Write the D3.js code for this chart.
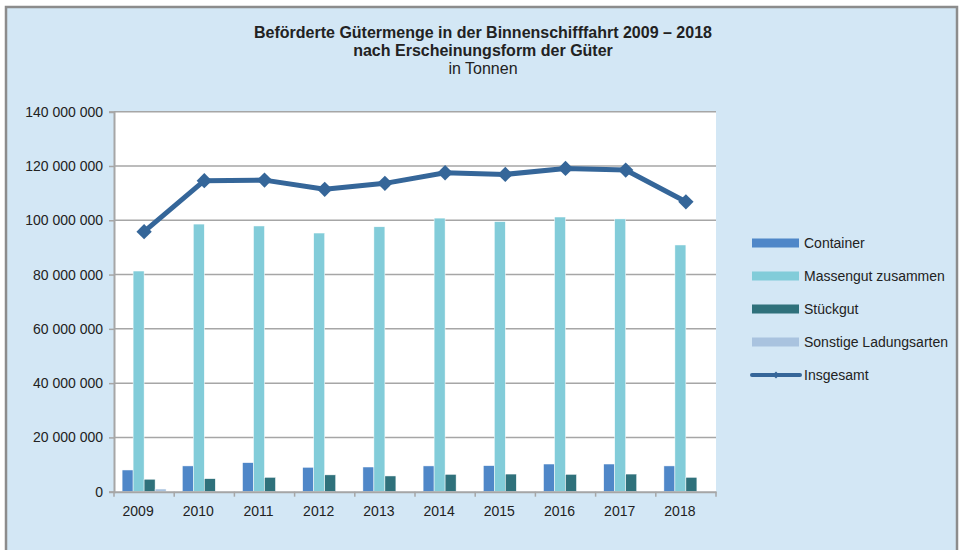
<!DOCTYPE html>
<html>
<head>
<meta charset="utf-8">
<script src="https://cdn.jsdelivr.net/npm/d3@7"></script>
<style>
  body { margin: 0; background: #fff; }
  svg { display: block; font-family: "Liberation Sans", Arial, sans-serif; }
</style>
</head>
<body>
<div id="chart"></div>
<script>
// data (Tonnen, in Mio.)
const years = ["2009", "2010", "2011", "2012", "2013", "2014", "2015", "2016", "2017", "2018"];
const container = [8.0, 9.5, 10.7, 9.0, 9.1, 9.5, 9.6, 10.2, 10.2, 9.5];
const massengut = [81.3, 98.6, 97.9, 95.3, 97.6, 100.8, 99.5, 101.2, 100.5, 90.9];
const stueckgut = [4.6, 4.8, 5.3, 6.2, 5.8, 6.4, 6.5, 6.4, 6.5, 5.3];
const sonstige = [1.0, 0, 0, 0, 0, 0, 0, 0, 0, 0];
const insgesamt = [95.8, 114.6, 114.8, 111.4, 113.6, 117.5, 116.9, 119.1, 118.5, 106.8];
const yTicks = [0, 20, 40, 60, 80, 100, 120, 140];

const seriesNames = ["Container", "Massengut zusammen", "Stückgut", "Sonstige Ladungsarten"];
const seriesValues = [container, massengut, stueckgut, sonstige];
const colors = ["#4F87C8", "#82CCD9", "#2F717B", "#A9C3DF"];
const lineColor = "#356699";

const W = 963, H = 550;
const svg = d3.select("#chart").append("svg")
    .attr("width", W)
    .attr("height", H);

// outer frame
svg.append("rect")
    .attr("x", 6).attr("y", 7)
    .attr("width", 951).attr("height", 560)
    .attr("fill", "#D3E7F5")
    .attr("stroke", "#8C8C8C")
    .attr("stroke-width", 2.5);

// title
const title = svg.append("g").attr("text-anchor", "middle").attr("fill", "#222");
title.append("text").attr("x", 483).attr("y", 38)
    .attr("font-size", 16).attr("font-weight", "bold")
    .text("Beförderte Gütermenge in der Binnenschifffahrt 2009 – 2018");
title.append("text").attr("x", 483).attr("y", 56)
    .attr("font-size", 16).attr("font-weight", "bold")
    .text("nach Erscheinungsform der Güter");
title.append("text").attr("x", 483).attr("y", 74)
    .attr("font-size", 16)
    .text("in Tonnen");

const pLeft = 114, pRight = 716, pTop = 111.7, pBottom = 491.7;

const x = d3.scaleBand().domain(years).range([pLeft, pRight]).padding(0);
const y = d3.scaleLinear().domain([0, 140]).range([pBottom, pTop]);
const xs = d3.scaleBand().domain(seriesNames).range([0, 44]);

// plot area
svg.append("rect")
    .attr("x", pLeft).attr("y", pTop)
    .attr("width", pRight - pLeft).attr("height", pBottom - pTop)
    .attr("fill", "#fff");

// grid
svg.append("g").selectAll("line")
  .data(yTicks.slice(1))
  .join("line")
    .attr("x1", pLeft).attr("x2", pRight)
    .attr("y1", d => y(d)).attr("y2", d => y(d))
    .attr("stroke", "#A6A6A6")
    .attr("stroke-width", 1.5);

// bars
const groups = svg.append("g").selectAll("g")
  .data(seriesNames)
  .join("g")
    .attr("fill", (d, i) => colors[i]);

groups.selectAll("rect")
  .data((d, i) => seriesValues[i].map((v, j) => ({ s: d, year: years[j], v })))
  .join("rect")
    .attr("x", d => x(d.year) + x.bandwidth() / 2 - 22 + xs(d.s))
    .attr("y", d => y(d.v))
    .attr("width", xs.bandwidth())
    .attr("height", d => pBottom - y(d.v))
    .attr("stroke", "#fff")
    .attr("stroke-width", 0.5);

// axes
const fmt = d => d3.format(",")(d * 1e6).replace(/,/g, " ");
const yAxis = svg.append("g")
    .attr("transform", `translate(${pLeft},0)`)
    .call(d3.axisLeft(y).tickValues(yTicks).tickFormat(fmt).tickSize(5).tickPadding(6));
yAxis.select(".domain").attr("stroke", "#A6A6A6").attr("stroke-width", 2);
yAxis.selectAll(".tick line").attr("stroke", "#A6A6A6").attr("stroke-width", 1.5);
yAxis.selectAll("text").attr("font-size", 14).attr("fill", "#222")
    .attr("font-family", "Liberation Sans, Arial, sans-serif");

const xAxis = svg.append("g")
    .attr("transform", `translate(0,${pBottom})`)
    .call(d3.axisBottom(x).tickSize(0).tickPadding(14));
xAxis.select(".domain").attr("stroke", "#A6A6A6").attr("stroke-width", 2);
xAxis.selectAll("text").attr("font-size", 14).attr("fill", "#222")
    .attr("font-family", "Liberation Sans, Arial, sans-serif")
    .attr("dx", -6);
// boundary ticks between categories
xAxis.append("g").selectAll("line")
  .data(years.concat(["end"]))
  .join("line")
    .attr("x1", (d, i) => pLeft + i * x.step())
    .attr("x2", (d, i) => pLeft + i * x.step())
    .attr("y1", 0).attr("y2", 5)
    .attr("stroke", "#A6A6A6")
    .attr("stroke-width", 1.5);

// line Insgesamt
const lineGen = d3.line()
    .x((d, i) => x(years[i]) + x.bandwidth() / 2)
    .y(d => y(d));

svg.append("path")
    .datum(insgesamt)
    .attr("d", lineGen)
    .attr("fill", "none")
    .attr("stroke", lineColor)
    .attr("stroke-width", 5)
    .attr("stroke-linejoin", "round");

const diamond = d3.symbol().type(d3.symbolDiamond2).size(150);
svg.append("g").selectAll("path")
  .data(insgesamt)
  .join("path")
    .attr("transform", (d, i) => `translate(${x(years[i]) + x.bandwidth() / 2},${y(d)})`)
    .attr("d", diamond)
    .attr("fill", lineColor);

// legend
const legend = svg.append("g").attr("transform", "translate(752,243)");
seriesNames.forEach((name, i) => {
  const row = legend.append("g").attr("transform", `translate(0,${i * 33})`);
  row.append("rect")
      .attr("x", 0).attr("y", -4.5)
      .attr("width", 47).attr("height", 9)
      .attr("fill", colors[i]);
  row.append("text")
      .attr("x", 52).attr("y", 5)
      .attr("font-size", 14).attr("fill", "#222")
      .text(name);
});
const lrow = legend.append("g").attr("transform", `translate(0,${4 * 33})`);
lrow.append("line")
    .attr("x1", 0).attr("x2", 48)
    .attr("stroke", lineColor).attr("stroke-width", 4)
    .attr("stroke-linecap", "round");
lrow.append("path")
    .attr("transform", "translate(24,0)")
    .attr("d", d3.symbol().type(d3.symbolDiamond2).size(30))
    .attr("fill", lineColor);
lrow.append("text")
    .attr("x", 52).attr("y", 5)
    .attr("font-size", 14).attr("fill", "#222")
    .text("Insgesamt");
</script>
</body>
</html>
